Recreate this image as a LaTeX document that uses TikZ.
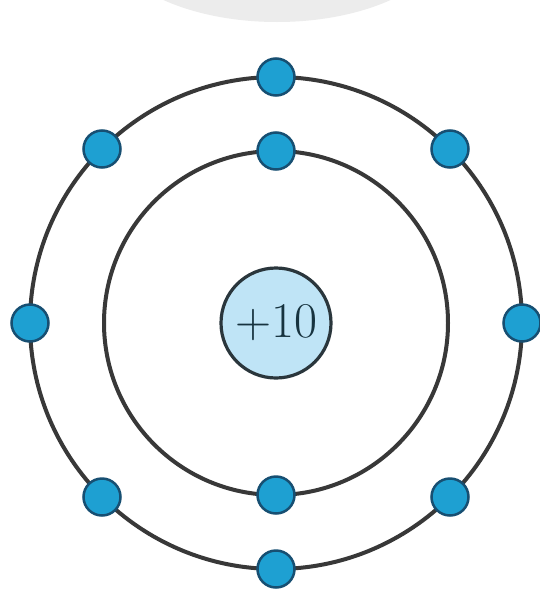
\documentclass[tikz,border=0pt]{standalone}
\usepackage{fix-cm}
\begin{document}
\begin{tikzpicture}[x=1pt,y=-1pt,
  orbit/.style={draw=orbitgray,line width=4pt},
  electron/.style={circle,draw=edark,line width=2.5pt,fill=eblue,minimum size=37pt,inner sep=0pt},
  nucleus/.style={circle,draw=ndark,line width=3.2pt,fill=nblue,minimum size=110pt,inner sep=0pt,
    font=\fontsize{50}{50}\selectfont,text=ntext}]
\definecolor{orbitgray}{HTML}{383838}
\definecolor{edark}{HTML}{174F72}
\definecolor{eblue}{HTML}{1EA0D2}
\definecolor{ndark}{HTML}{2A363C}
\definecolor{nblue}{HTML}{BFE4F6}
\definecolor{ntext}{HTML}{17333F}
\definecolor{topgray}{HTML}{ECECEC}
\useasboundingbox (0,0) rectangle (540,592);
\fill[white] (0,0) rectangle (540,592);
% faint gray arc at top
\begin{scope}
\clip (0,0) rectangle (540,40);
\fill[topgray] (277,-70) ellipse [x radius=175, y radius=92];
\end{scope}
\coordinate (c) at (276,323);
\draw[orbit] (c) circle [radius=172];
\draw[orbit] (c) circle [radius=246];
\node[nucleus] (n) at (c) {+10};
% inner shell
\node[electron] (i1) at (276,151) {};
\node[electron] (i2) at (276,495) {};
% outer shell
\node[electron] (o1) at (276,77) {};
\node[electron] (o2) at (450,149) {};
\node[electron] (o3) at (522,323) {};
\node[electron] (o4) at (450,497) {};
\node[electron] (o5) at (276,569) {};
\node[electron] (o6) at (102,497) {};
\node[electron] (o7) at (30,323) {};
\node[electron] (o8) at (102,149) {};
\end{tikzpicture}
\end{document}
